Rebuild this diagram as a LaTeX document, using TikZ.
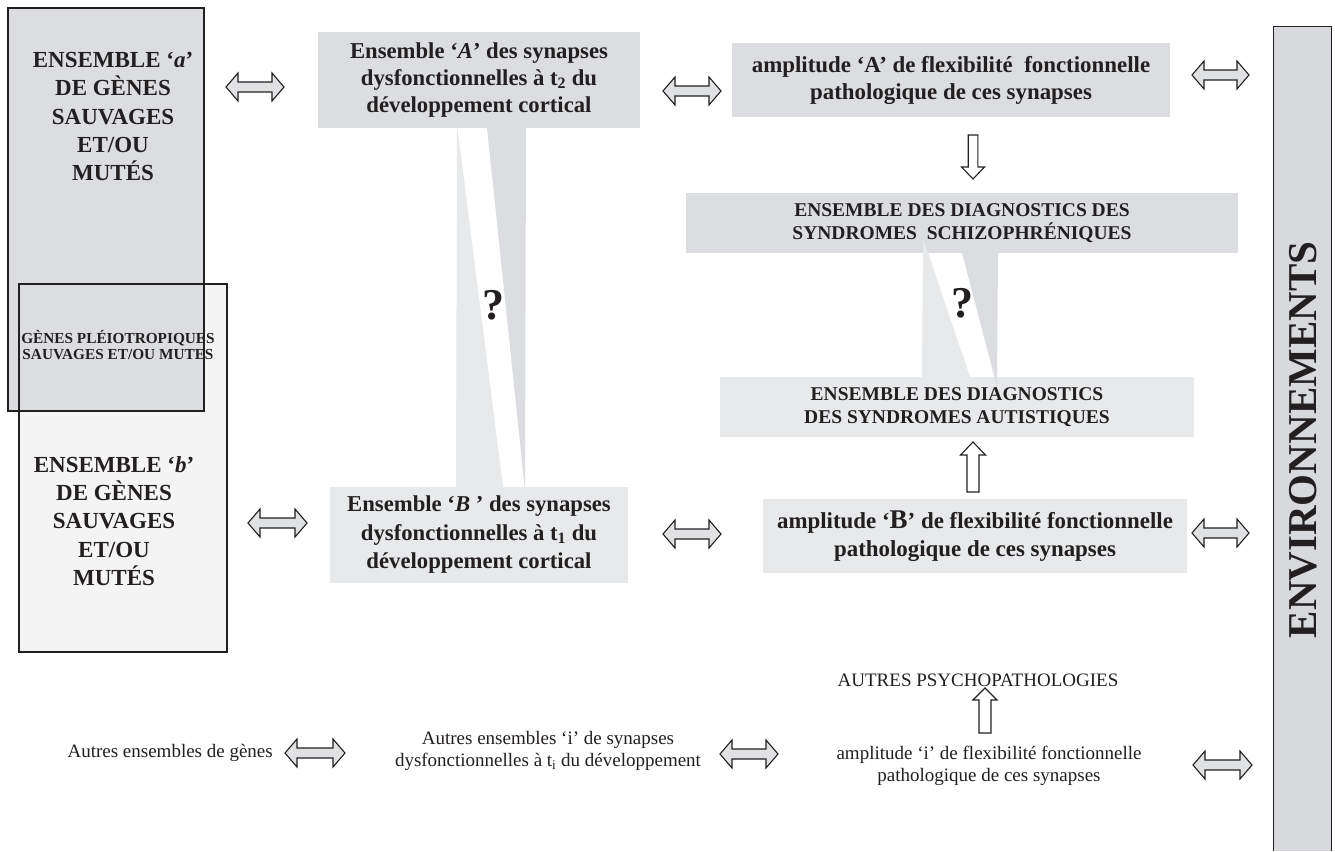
\documentclass[tikz,border=0pt]{standalone}
\usepackage{fontspec}
\setmainfont{Liberation Serif}
\definecolor{txt}{RGB}{35,31,32}
\definecolor{dgray}{RGB}{220,221,224}
\definecolor{lgray}{RGB}{232,233,235}
\definecolor{vlgray}{RGB}{244,244,245}
\definecolor{envgray}{RGB}{216,217,220}
\definecolor{arrgray}{RGB}{224,225,227}
\newcommand{\hdarr}[3]{\draw[harr] (#1,#3) -- ++(12,-14) -- ++(0,9) -- ({#2-12},{#3-5}) -- ++(0,-9) -- (#2,#3) -- ({#2-12},{#3+14}) -- ++(0,-9) -- ({#1+12},{#3+5}) -- ++(0,9) -- cycle;}
% x, ytip, yheadend, ytail, halfshaft, halfhead
\newcommand{\vblk}[6]{\draw[varr] (#1,#2) -- ({#1+#6},#3) -- ({#1+#5},#3) -- ({#1+#5},#4) -- ({#1-#5},#4) -- ({#1-#5},#3) -- ({#1-#6},#3) -- cycle;}
\tikzset{
  bigbox/.style={inner sep=0pt, align=center, text=txt, font=\bfseries\fontsize{22.7}{27}\selectfont},
  diagbox/.style={inner sep=0pt, align=center, text=txt, font=\bfseries\fontsize{19.5}{23}\selectfont},
  plain/.style={inner sep=0pt, align=center, text=txt, font=\fontsize{19}{22.5}\selectfont},
  harr/.style={draw=txt, line width=1.1pt, fill=arrgray, line join=miter},
  varr/.style={draw=txt, line width=1.1pt, fill=white, line join=miter},
  qmark/.style={inner sep=0pt, text=txt, font=\bfseries\fontsize{44}{44}\selectfont},
}
\begin{document}
\begin{tikzpicture}[x=1pt,y=-1pt]
\useasboundingbox[fill=white] (0,0) rectangle (1335,851);

% gene boxes
\fill[vlgray] (19,284) rectangle (227,652);
\node[draw=txt, line width=1.3pt, fill=dgray, minimum width=196, minimum height=403, inner sep=0pt] (ga) at (106,209.5) {};
\node[draw=txt, line width=1.3pt, minimum width=208, minimum height=368, inner sep=0pt] (gb) at (123,468) {};
\node[bigbox, font=\bfseries\fontsize{23}{28.3}\selectfont] (gatxt) at (113,116.5) {ENSEMBLE ‘\textit{a}’\\DE GÈNES\\SAUVAGES\\ET/OU\\MUTÉS};
\node[bigbox, font=\bfseries\fontsize{23}{28.3}\selectfont] (gbtxt) at (114,521) {ENSEMBLE ‘\textit{b}’\\DE GÈNES\\SAUVAGES\\ET/OU\\MUTÉS};
\node[inner sep=0pt, align=center, text=txt, font=\bfseries\fontsize{15.3}{16.5}\selectfont] (pleio) at (118,345) {GÈNES PLÉIOTROPIQUES\\SAUVAGES ET/OU MUTES};

% synapse boxes
\node[bigbox, fill=dgray, minimum width=322, minimum height=96] (SA) at (479,80) {Ensemble ‘\textit{A}’ des synapses\\dysfonctionnelles à t\textsubscript{2} du\\développement cortical};
\node[bigbox, fill=lgray, minimum width=298, minimum height=96, font=\bfseries\fontsize{22.7}{28.5}\selectfont] (SB) at (479,535) {Ensemble ‘\textit{B} ’ des synapses\\dysfonctionnelles à t\textsubscript{1} du\\développement cortical};

% amplitude boxes
\node[bigbox, fill=dgray, minimum width=438, minimum height=74, font=\bfseries\fontsize{22.9}{27}\selectfont] (AA) at (951,80) {amplitude ‘A’ de flexibilité~ fonctionnelle\\pathologique de ces synapses};
\node[bigbox, fill=lgray, minimum width=424, minimum height=74, font=\bfseries\fontsize{22.9}{28}\selectfont] (AB) at (975,536) {amplitude ‘{\fontsize{27}{27}\selectfont B}’ de flexibilité fonctionnelle\\pathologique de ces synapses};

% diagnostics boxes
\node[diagbox, fill=dgray, minimum width=552, minimum height=60] (schizo) at (962,223) {ENSEMBLE DES DIAGNOSTICS DES\\SYNDROMES~ SCHIZOPHRÉNIQUES};
\node[diagbox, fill=lgray, minimum width=474, minimum height=60] (autis) at (957,407) {ENSEMBLE DES DIAGNOSTICS\\DES SYNDROMES AUTISTIQUES};

% callout wedges
\fill[lgray] (456,487) -- (457,124) -- (503,487) -- cycle;
\fill[dgray] (487,128) -- (526,128) -- (525,490) -- cycle;
\fill[lgray] (922,377) -- (923,238) -- (970,377) -- cycle;
\fill[dgray] (962,253) -- (998,253) -- (997,387) -- cycle;
\node[qmark] (q1) at (493,305) {?};
\node[qmark] (q2) at (962,303) {?};

% environment box
\node[fill=envgray, minimum width=57, minimum height=824, inner sep=0pt] (env) at (1302.5,439) {};
\draw[txt, line width=1.3pt] (env.south west) -- (env.north west) -- (env.north east) -- (env.south east);
\node[inner sep=0pt, text=txt, rotate=90, font=\bfseries\fontsize{41}{41}\selectfont] (envtxt) at (1303,440) {ENVIRONNEMENTS};

% bottom row
\node[plain, anchor=east] (autg) at (273,753) {Autres ensembles de gènes};
\node[plain] (auts) at (548,751) {Autres ensembles ‘i’ de synapses\\dysfonctionnelles à t\textsubscript{i} du développement};
\node[plain] (psy) at (978,680) {AUTRES PSYCHOPATHOLOGIES};
\node[plain] (ampi) at (989,766) {amplitude ‘i’ de flexibilité fonctionnelle\\pathologique de ces synapses};

% horizontal block arrows
\hdarr{226}{284}{87}
\hdarr{663}{721}{91}
\hdarr{1192}{1249}{75}
\hdarr{248}{307}{523}
\hdarr{663}{721}{534}
\hdarr{1192}{1249}{533}
\hdarr{285}{345}{753}
\hdarr{720}{778}{754}
\hdarr{1193}{1252}{765}

% vertical block arrows
\vblk{973}{179}{167}{135}{4.8}{11.5}
\vblk{973}{442}{455}{492}{6}{12.5}
\vblk{985}{688}{700}{733}{6}{12}
\end{tikzpicture}
\end{document}
